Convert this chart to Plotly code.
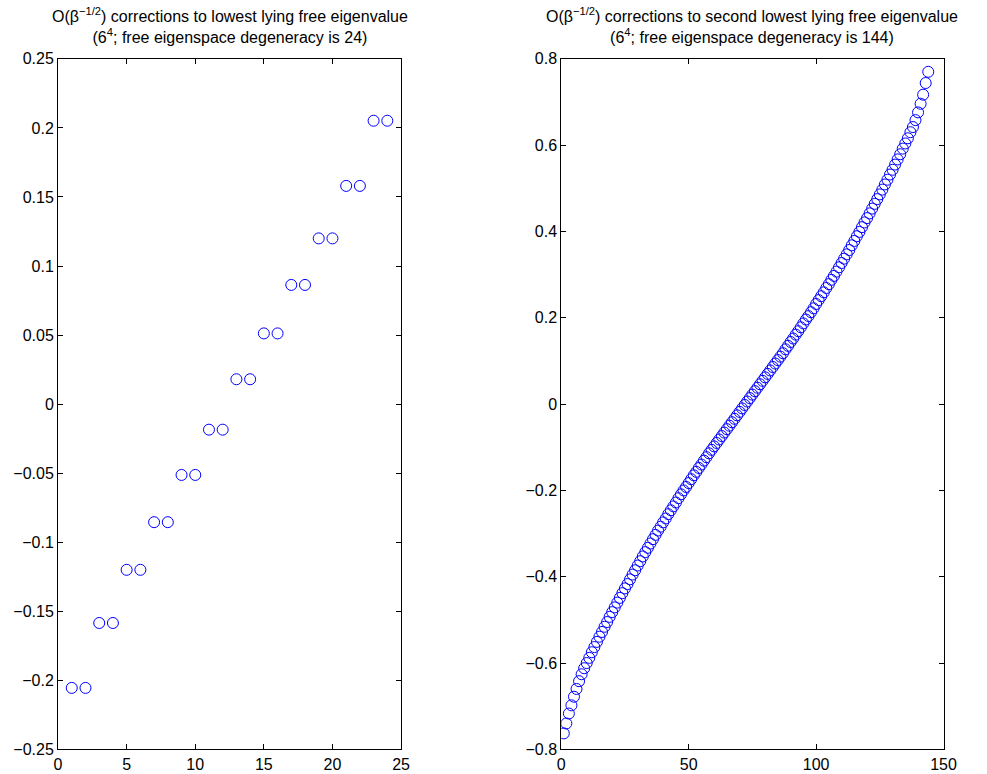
import plotly.graph_objects as go

# ---------------- data ----------------
left_index = list(range(1, 25))
left_values = [-0.2055, -0.2055, -0.1585, -0.1585, -0.1200, -0.1200,
               -0.0855, -0.0855, -0.0513, -0.0513, -0.0185, -0.0185,
               0.0180, 0.0180, 0.0512, 0.0512, 0.0863, 0.0863,
               0.1200, 0.1200, 0.1580, 0.1580, 0.2052, 0.2052]

right_index = list(range(1, 145))
right_values = [
    -0.763, -0.740, -0.717, -0.698, -0.678, -0.660, -0.642, -0.626, -0.612, -0.600,
    -0.588, -0.575, -0.563, -0.551, -0.539, -0.528, -0.516, -0.505, -0.493, -0.482,
    -0.471, -0.460, -0.449, -0.438, -0.427, -0.417, -0.406, -0.395, -0.385, -0.374,
    -0.364, -0.353, -0.343, -0.333, -0.323, -0.313, -0.303, -0.293, -0.284, -0.274,
    -0.265, -0.255, -0.246, -0.237, -0.228, -0.218, -0.209, -0.200, -0.192, -0.183,
    -0.174, -0.165, -0.157, -0.148, -0.140, -0.131, -0.123, -0.114, -0.106, -0.098,
    -0.090, -0.082, -0.074, -0.066, -0.058, -0.050, -0.042, -0.034, -0.026, -0.018,
    -0.010, -0.002, 0.006, 0.014, 0.022, 0.030, 0.038, 0.046, 0.054, 0.062,
    0.070, 0.078, 0.086, 0.094, 0.102, 0.110, 0.118, 0.127, 0.135, 0.144,
    0.152, 0.161, 0.169, 0.178, 0.187, 0.196, 0.204, 0.213, 0.222, 0.232,
    0.241, 0.250, 0.259, 0.269, 0.278, 0.288, 0.297, 0.307, 0.317, 0.327,
    0.337, 0.347, 0.357, 0.368, 0.378, 0.389, 0.399, 0.410, 0.421, 0.431,
    0.442, 0.453, 0.464, 0.475, 0.486, 0.497, 0.509, 0.520, 0.532, 0.543,
    0.555, 0.567, 0.579, 0.592, 0.604, 0.616, 0.630, 0.642, 0.658, 0.676,
    0.696, 0.717, 0.744, 0.770]

left_xticks = [0, 5, 10, 15, 20, 25]
left_yticks = [-0.25, -0.2, -0.15, -0.1, -0.05, 0, 0.05, 0.1, 0.15, 0.2, 0.25]
left_yticktext = ["\u22120.25", "\u22120.2", "\u22120.15", "\u22120.1", "\u22120.05",
                  "0", "0.05", "0.1", "0.15", "0.2", "0.25"]
right_xticks = [0, 50, 100, 150]
right_yticks = [-0.8, -0.6, -0.4, -0.2, 0, 0.2, 0.4, 0.6, 0.8]
right_yticktext = ["\u22120.8", "\u22120.6", "\u22120.4", "\u22120.2", "0",
                   "0.2", "0.4", "0.6", "0.8"]

title_left = ("O(\u03b2<sup>\u22121/2</sup>) corrections to lowest lying free eigenvalue"
              "<br>(6<sup>4</sup>; free eigenspace degeneracy is 24)")
title_right = ("O(\u03b2<sup>\u22121/2</sup>) corrections to second lowest lying free eigenvalue"
               "<br>(6<sup>4</sup>; free eigenspace degeneracy is 144)")

# ---------------- figure ----------------
W, H = 987, 774
FONT = "Liberation Sans, Arial, Helvetica, sans-serif"

fig = go.Figure()
marker = dict(symbol="circle-open", size=11, color="#0000ff", line=dict(width=1, color="#0000ff"))
fig.add_trace(go.Scatter(x=left_index, y=left_values, mode="markers", marker=marker,
                         xaxis="x", yaxis="y", showlegend=False))
fig.add_trace(go.Scatter(x=right_index, y=right_values, mode="markers", marker=marker,
                         xaxis="x2", yaxis="y2", showlegend=False))

ytop, ybot = 52, 758
ydom = [(H - ybot) / H, (H - ytop) / H]
LX0, LX1 = 55, 404
RX0, RX1 = 567, 956
axis_common = dict(showline=True, linecolor="black", linewidth=1, mirror="ticks",
                   ticks="inside", ticklen=5, tickcolor="black", tickwidth=1,
                   showgrid=False, zeroline=False,
                   tickfont=dict(family=FONT, size=16, color="black"))

fig.update_layout(
    width=W, height=H,
    margin=dict(l=0, r=0, t=0, b=0),
    paper_bgcolor="white", plot_bgcolor="white",
    font=dict(family=FONT, size=16, color="black"),
    xaxis=dict(domain=[LX0 / W, LX1 / W], range=[0, 25], tickmode="array",
               tickvals=left_xticks, anchor="y", **axis_common),
    yaxis=dict(domain=ydom, range=[-0.25, 0.25], tickmode="array",
               tickvals=left_yticks, ticktext=left_yticktext, anchor="x", **axis_common),
    xaxis2=dict(domain=[RX0 / W, RX1 / W], range=[0, 150], tickmode="array",
                tickvals=right_xticks, anchor="y2", **axis_common),
    yaxis2=dict(domain=ydom, range=[-0.8, 0.8], tickmode="array",
                tickvals=right_yticks, ticktext=right_yticktext, anchor="x2", **axis_common),
    annotations=[
        dict(text=title_left, x=(LX0 + LX1) / 2 / W, y=(H - 41) / H, xref="paper", yref="paper",
             xanchor="center", yanchor="bottom", showarrow=False, align="center",
             font=dict(family=FONT, size=16, color="black")),
        dict(text=title_right, x=(RX0 + RX1) / 2 / W, y=(H - 41) / H, xref="paper", yref="paper",
             xanchor="center", yanchor="bottom", showarrow=False, align="center",
             font=dict(family=FONT, size=16, color="black")),
    ],
)

fig.write_html("out.html")
